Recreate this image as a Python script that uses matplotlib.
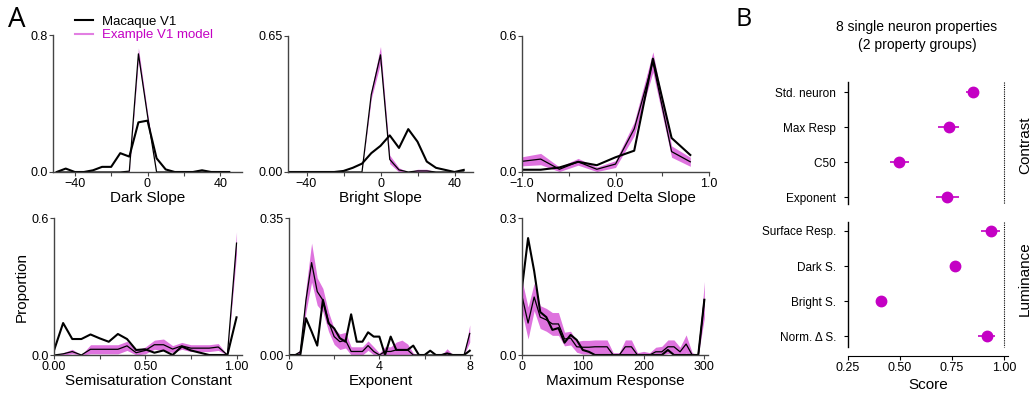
import matplotlib
matplotlib.use("Agg")
import matplotlib.pyplot as plt
from matplotlib.lines import Line2D
import numpy as np

plt.rcParams["font.family"] = ["Liberation Sans", "DejaVu Sans"]

MAG = "#c400c4"
BAND = "#c400c4"
SPINE = "#444444"

# ---- panel A data (proportions per bin) ----
dark_x = np.arange(-50, 50, 5)
dark_macaque = [0.0, 0.02, 0.0, 0.0, 0.01, 0.03, 0.03, 0.11, 0.09, 0.29,
                0.30, 0.08, 0.015, 0.0, 0.0, 0.0, 0.01, 0.0, 0.0, 0.0]
dark_model = [0.0, 0.0, 0.0, 0.0, 0.0, 0.0, 0.0, 0.0, 0.005, 0.69,
              0.33, 0.0, 0.0, 0.0, 0.0, 0.0, 0.0, 0.0, 0.0, 0.0]
dark_sd = [0.0, 0.0, 0.0, 0.0, 0.0, 0.0, 0.0, 0.0, 0.005, 0.035,
           0.02, 0.0, 0.0, 0.0, 0.0, 0.0, 0.0, 0.0, 0.0, 0.0]

bright_x = np.arange(-50, 50, 5)
bright_macaque = [0.0, 0.0, 0.0, 0.0, 0.0, 0.0, 0.005, 0.02, 0.04, 0.09,
                  0.125, 0.175, 0.115, 0.205, 0.145, 0.05, 0.02, 0.01, 0.0, 0.01]
bright_model = [0.0, 0.0, 0.0, 0.0, 0.0, 0.0, 0.0, 0.0, 0.0, 0.37,
                0.56, 0.06, 0.01, 0.0, 0.005, 0.005, 0.0, 0.0, 0.0, 0.0]
bright_sd = [0.0, 0.0, 0.0, 0.0, 0.0, 0.0, 0.0, 0.0, 0.0, 0.02,
             0.04, 0.02, 0.01, 0.0, 0.008, 0.008, 0.0, 0.0, 0.0, 0.0]

delta_x = np.arange(-1.0, 0.9, 0.2)
delta_macaque = [0.01, 0.01, 0.02, 0.045, 0.03, 0.065, 0.094, 0.50, 0.15, 0.075]
delta_model = [0.047, 0.057, 0.012, 0.045, 0.012, 0.035, 0.19, 0.485, 0.09, 0.045]
delta_sd = [0.02, 0.025, 0.01, 0.015, 0.01, 0.015, 0.03, 0.045, 0.025, 0.02]

c50_x = np.arange(0, 1.01, 0.05)
c50_macaque = [0.02, 0.14, 0.07, 0.07, 0.09, 0.073, 0.058, 0.092, 0.07, 0.022, 0.025,
               0.01, 0.02, 0.0, 0.037, 0.02, 0.01, 0.0, 0.0, 0.0, 0.165]
c50_model = [0.0, 0.005, 0.015, 0.0, 0.025, 0.025, 0.025, 0.025, 0.04, 0.01, 0.02,
             0.045, 0.045, 0.026, 0.04, 0.03, 0.03, 0.03, 0.035, 0.0, 0.49]
c50_sd = [0.0, 0.005, 0.01, 0.0, 0.02, 0.02, 0.02, 0.02, 0.02, 0.01, 0.015,
          0.02, 0.025, 0.015, 0.015, 0.015, 0.015, 0.015, 0.015, 0.0, 0.05]

expo_x = np.arange(0, 8.01, 0.25)
expo_macaque = [0.0, 0.0, 0.0, 0.094, 0.06, 0.024, 0.141, 0.081, 0.068, 0.043, 0.034,
                0.104, 0.034, 0.034, 0.058, 0.047, 0.047, 0.0, 0.047, 0.013, 0.013,
                0.013, 0.024, 0.0, 0.0, 0.011, 0.0, 0.0, 0.004, 0.0, 0.0, 0.0, 0.011]
expo_model = [0.0, 0.0, 0.008, 0.14, 0.236, 0.162, 0.14, 0.085, 0.047, 0.034, 0.038,
              0.009, 0.009, 0.009, 0.024, 0.009, 0.0, 0.009, 0.009, 0.013, 0.013,
              0.013, 0.0, 0.0, 0.0, 0.0, 0.0, 0.0, 0.004, 0.0, 0.0, 0.0, 0.055]
expo_sd = [0.0, 0.0, 0.006, 0.03, 0.05, 0.035, 0.03, 0.025, 0.02, 0.02, 0.02,
           0.012, 0.012, 0.012, 0.012, 0.012, 0.005, 0.012, 0.012, 0.02, 0.025,
           0.015, 0.005, 0.0, 0.0, 0.0, 0.0, 0.0, 0.012, 0.0, 0.0, 0.0, 0.022]

maxr_x = np.arange(0, 301, 10)
maxr_macaque = [0.147, 0.256, 0.184, 0.094, 0.083, 0.055, 0.059, 0.027, 0.044, 0.033, 0.011,
                0.007, 0.0, 0.0, 0.0, 0.0, 0.0, 0.0, 0.0, 0.0, 0.0,
                0.0, 0.0, 0.0, 0.011, 0.0, 0.0, 0.0, 0.0, 0.0, 0.121]
maxr_model = [0.129, 0.07, 0.127, 0.083, 0.077, 0.068, 0.068, 0.035, 0.037, 0.018, 0.017,
              0.017, 0.018, 0.018, 0.018, 0.0, 0.0, 0.018, 0.018, 0.0, 0.0,
              0.0, 0.007, 0.007, 0.018, 0.018, 0.007, 0.024, 0.0, 0.0, 0.121]
maxr_sd = [0.035, 0.035, 0.03, 0.025, 0.025, 0.025, 0.025, 0.015, 0.015, 0.012, 0.015,
           0.015, 0.015, 0.015, 0.015, 0.005, 0.005, 0.015, 0.015, 0.005, 0.008,
           0.005, 0.01, 0.012, 0.015, 0.015, 0.01, 0.02, 0.005, 0.0, 0.04]

# ---- panel B data ----
contrast_labels = ["Std. neuron", "Max Resp", "C50", "Exponent"]
contrast_scores = [0.85, 0.735, 0.497, 0.728]
contrast_err = [0.03, 0.05, 0.046, 0.055]
lum_labels = ["Surface Resp.", "Dark S.", "Bright S.", "Norm. Δ S."]
lum_scores = [0.937, 0.767, 0.41, 0.918]
lum_err = [0.045, 0.01, 0.015, 0.04]

W, H = 1034, 396
fig = plt.figure(figsize=(W / 100, H / 100), dpi=100)


def px_axes(left, top, right, bottom):
    return fig.add_axes([left / W, 1 - bottom / H, (right - left) / W, (bottom - top) / H])


def hist_panel(ax, x, mac, mod, sd, xlim, ymax, ylabels, xticks, xlabels, xlabel):
    mod = np.array(mod)
    sd = np.array(sd)
    ax.fill_between(x, np.clip(mod - sd, 0, None), mod + sd, color=BAND, alpha=0.55, lw=0)
    ax.plot(x, mod, color="black", lw=0.9)
    ax.plot(x, mac, color="black", lw=1.5)
    ax.set_xlim(*xlim)
    ax.set_ylim(0, ymax)
    ax.set_yticks([0, ymax])
    ax.set_yticklabels(ylabels)
    ax.set_xticks(xticks)
    ax.set_xticklabels(xlabels)
    ax.set_xlabel(xlabel, fontsize=11, labelpad=1)
    for s in ["top", "right"]:
        ax.spines[s].set_visible(False)
    for s in ["left", "bottom"]:
        ax.spines[s].set_color(SPINE)
        ax.spines[s].set_linewidth(1.0)
    ax.tick_params(labelsize=9, length=3, width=0.8, color=SPINE, pad=1)


ax1 = px_axes(53, 35, 242, 172)
hist_panel(ax1, dark_x, dark_macaque, dark_model, dark_sd, (-52, 52), 0.8,
           ["0.0", "0.8"], [-40, -20, 0, 20, 40], ["\u221240", "", "0", "", "40"], "Dark Slope")
ax2 = px_axes(288, 36, 473, 172)
hist_panel(ax2, bright_x, bright_macaque, bright_model, bright_sd, (-50, 50), 0.65,
           ["0.00", "0.65"], [-40, -20, 0, 20, 40], ["\u221240", "", "0", "", "40"], "Bright Slope")
ax3 = px_axes(522, 36, 709, 172)
hist_panel(ax3, delta_x, delta_macaque, delta_model, delta_sd, (-1.0, 1.0), 0.6,
           ["0.0", "0.6"], [-1, -0.5, 0, 0.5, 1], ["\u22121.0", "", "0.0", "", "1.0"],
           "Normalized Delta Slope")
ax4 = px_axes(54, 218, 242, 355)
hist_panel(ax4, c50_x, c50_macaque, c50_model, c50_sd, (0, 1.03), 0.6,
           ["0.0", "0.6"], [0, 0.25, 0.5, 0.75, 1.0], ["0.00", "", "0.50", "", "1.00"],
           "Semisaturation Constant")
ax4.set_ylabel("Proportion", fontsize=11, labelpad=2)
ax5 = px_axes(289, 218, 472, 355)
hist_panel(ax5, expo_x, expo_macaque, expo_model, expo_sd, (0, 8.1), 0.35,
           ["0.00", "0.35"], [0, 2, 4, 6, 8], ["0", "", "4", "", "8"], "Exponent")
ax6 = px_axes(522, 218, 708, 355)
hist_panel(ax6, maxr_x, maxr_macaque, maxr_model, maxr_sd, (0, 306), 0.3,
           ["0.0", "0.3"], [0, 100, 200, 300], ["0", "100", "200", "300"], "Maximum Response")

handles = [Line2D([], [], color="black", lw=1.5),
           Line2D([], [], color="#e27fe2", lw=1.5)]
leg = fig.legend(handles, ["Macaque V1", "Example V1 model"], loc="upper left",
                 bbox_to_anchor=(68 / W, 1 - 9 / H), frameon=False, fontsize=9.5,
                 handlelength=1.4, handletextpad=0.7, labelspacing=0.1, borderpad=0)
leg.get_texts()[1].set_color(MAG)

fig.text(8 / W, 1 - 20 / H, "A", fontsize=20, va="center", ha="left",
         family=["Open Sans", "DejaVu Sans"])
fig.text(736 / W, 1 - 20 / H, "B", fontsize=18, va="center", ha="left",
         family=["Open Sans", "DejaVu Sans"])

# ---- panel B ----
fig.text(917 / W, 1 - 36 / H, "8 single neuron properties\n(2 property groups)",
         ha="center", va="center", fontsize=10, linespacing=1.3)

axb1 = px_axes(848, 82, 1008, 204)
axb2 = px_axes(848, 222, 1008, 356)


def score_panel(ax, labels, scores, errs, ylo, yhi, spine_hi):
    y = np.arange(len(labels))
    ax.errorbar(scores, y, xerr=errs, fmt="o", color=MAG, ms=7.5, elinewidth=1.2,
                capsize=0, zorder=3)
    ax.vlines(1.0, ylo, spine_hi, color="black", lw=0.8, linestyles=(0, (1, 1)))
    ax.set_ylim(yhi, ylo)
    ax.set_xlim(0.25, 1.02)
    ax.set_yticks(y)
    ax.set_yticklabels([l + "  " for l in labels], fontsize=8.5)
    for s in ["top", "right"]:
        ax.spines[s].set_visible(False)
    ax.spines["left"].set_bounds(ylo, spine_hi)
    ax.spines["left"].set_linewidth(1.0)
    ax.tick_params(axis="y", length=3, width=0.8, pad=1)


score_panel(axb1, contrast_labels, contrast_scores, contrast_err, -0.286, 3.2, 3.2)
axb1.spines["bottom"].set_visible(False)
axb1.set_xticks([])
score_panel(axb2, lum_labels, lum_scores, lum_err, -0.257, 3.571, 3.314)
axb2.set_xticks([0.25, 0.5, 0.75, 1.0])
axb2.set_xticklabels(["0.25", "0.50", "0.75", "1.00"])
axb2.tick_params(axis="x", labelsize=9, length=3, width=0.8, pad=1)
axb2.set_xlabel("Score", fontsize=11, labelpad=3)

fig.text(1025 / W, 1 - 145 / H, "Contrast", rotation=90, ha="center", va="center", fontsize=11)
fig.text(1025 / W, 1 - 279 / H, "Luminance", rotation=90, ha="center", va="center", fontsize=11)

fig.savefig("out.png", dpi=100)
